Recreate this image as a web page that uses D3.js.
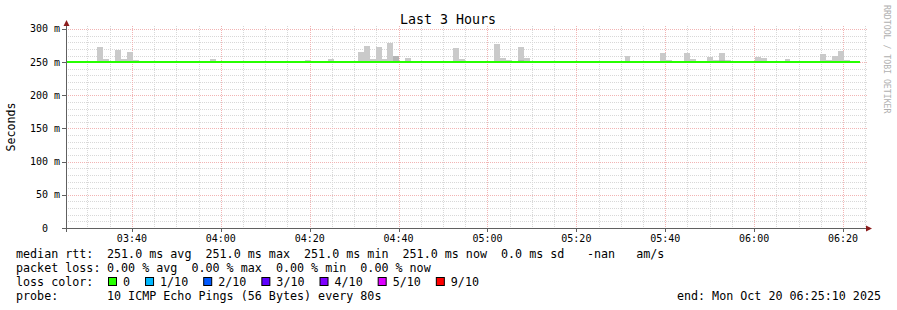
<!DOCTYPE html>
<html>
<head>
<meta charset="utf-8">
<script src="https://cdn.jsdelivr.net/npm/d3@7"></script>
<style>
  body { margin: 0; background: #fff; }
  text { font-family: "DejaVu Sans Mono", monospace; white-space: pre; }
</style>
</head>
<body>
<div class="chart"></div>
<script>
// graph window
const startTime = "03:25:10", endTime = "06:25:10";
const medianEnd = "06:23:50";
const medianRtt = 251;   // ms
const yTicks = [0, 50, 100, 150, 200, 250, 300];

// smoke: start of each 80s step and the highest ping in it (ms)
const smokeTimes = ["03:32:10", "03:33:30", "03:36:10", "03:37:30", "03:38:50", "03:40:10",
    "03:57:30", "04:18:50", "04:24:10", "04:30:50", "04:32:10", "04:33:30", "04:34:50",
    "04:36:10", "04:37:30", "04:38:50", "04:41:30", "04:52:10", "04:53:30", "05:01:30",
    "05:02:50", "05:04:10", "05:06:50", "05:08:10", "05:30:50", "05:38:50", "05:40:10",
    "05:44:10", "05:45:30", "05:49:30", "05:50:50", "05:52:10", "05:53:30", "06:00:10",
    "06:01:30", "06:06:50", "06:14:50", "06:16:10", "06:17:30", "06:18:50", "06:20:10"];
const smokeMax = [273, 255, 268, 255, 265, 253,
    255, 253, 255, 265, 274, 255, 273,
    255, 279, 260, 256, 271, 255, 277,
    256, 253, 273, 256, 259, 264, 253,
    264, 255, 258, 253, 264, 253, 258,
    256, 255, 262, 253, 259, 267, 253];
// darker inner band of the smoke
const coreTimes = ["04:38:50", "05:06:50", "05:52:10"];
const coreMax = [259, 253, 253];
const smokeMin = 250;

// legend
const lossLabels = ["0", "1/10", "2/10", "3/10", "4/10", "5/10", "9/10"];
const lossColors = ["#26ff00", "#00b8ff", "#0059ff", "#5e00ff", "#7e00ff", "#dd00ff", "#ff0000"];

const W = 897, H = 310;
const step = 80; // seconds

const parse = s => {
    const p = s.split(":").map(Number);
    return new Date(2025, 9, 20, p[0], p[1], p[2]);
};

const svg = d3.select("div.chart").append("svg")
    .attr("width", W).attr("height", H);

const x = d3.scaleTime()
    .domain([parse(startTime), parse(endTime)])
    .range([66, 866]);
const y = d3.scaleLinear()
    .domain([0, 301.5])
    .range([228, 28]);

// minor grid
const minorY = d3.range(0, 301, 10).filter(v => v % 50 != 0);
svg.append("g").selectAll("line").data(minorY).enter().append("line")
    .attr("x1", 66).attr("x2", 868)
    .attr("y1", d => Math.round(y(d)) + 0.5).attr("y2", d => Math.round(y(d)) + 0.5)
    .attr("stroke", "#d8d8d8").attr("stroke-dasharray", "1,1");
const minorX = x.ticks(d3.timeMinute.every(5)).filter(d => d.getMinutes() % 20 != 0);
svg.append("g").selectAll("line").data(minorX).enter().append("line")
    .attr("x1", d => Math.round(x(d)) + 0.5).attr("x2", d => Math.round(x(d)) + 0.5)
    .attr("y1", 26).attr("y2", 228)
    .attr("stroke", "#d8d8d8").attr("stroke-dasharray", "1,1");

// major grid
const majorX = x.ticks(d3.timeMinute.every(20));
svg.append("g").selectAll("line").data(yTicks.slice(1)).enter().append("line")
    .attr("x1", 66).attr("x2", 868)
    .attr("y1", d => Math.round(y(d)) + 0.5).attr("y2", d => Math.round(y(d)) + 0.5)
    .attr("stroke", "#f2b4b4").attr("stroke-dasharray", "1,1");
svg.append("g").selectAll("line").data(majorX).enter().append("line")
    .attr("x1", d => Math.round(x(d)) + 0.5).attr("x2", d => Math.round(x(d)) + 0.5)
    .attr("y1", 26).attr("y2", 228)
    .attr("stroke", "#f2b4b4").attr("stroke-dasharray", "1,1");

// smoke
const stepW = d => x(new Date(d.getTime() + step * 1000)) - x(d);
svg.append("g").selectAll("rect").data(smokeTimes.map((t, i) => [parse(t), smokeMax[i]]))
    .enter().append("rect")
    .attr("x", d => x(d[0])).attr("width", d => stepW(d[0]))
    .attr("y", d => y(d[1])).attr("height", d => y(smokeMin) - y(d[1]))
    .attr("fill", "#cacaca").attr("shape-rendering", "crispEdges");
svg.append("g").selectAll("rect").data(coreTimes.map((t, i) => [parse(t), coreMax[i]]))
    .enter().append("rect")
    .attr("x", d => x(d[0])).attr("width", d => stepW(d[0]))
    .attr("y", d => y(d[1])).attr("height", d => y(smokeMin) - y(d[1]))
    .attr("fill", "#b4b4b4").attr("shape-rendering", "crispEdges");

// median line
svg.append("line")
    .attr("x1", x(parse(startTime))).attr("x2", x(parse(medianEnd)))
    .attr("y1", Math.round(y(medianRtt)) + 1).attr("y2", Math.round(y(medianRtt)) + 1)
    .attr("stroke", lossColors[0]).attr("stroke-width", 2)
    .attr("shape-rendering", "crispEdges");

// axes
const axisCol = "#606060", arrowCol = "#8b1c1c";
svg.append("line").attr("x1", 62).attr("x2", 868).attr("y1", 228.5).attr("y2", 228.5)
    .attr("stroke", axisCol);
svg.append("line").attr("x1", 66.5).attr("x2", 66.5).attr("y1", 232).attr("y2", 24)
    .attr("stroke", axisCol);
svg.append("path").attr("d", "M866,225.5 L872,228.5 L866,231.5 Z").attr("fill", arrowCol);
svg.append("path").attr("d", "M63.5,26 L66.5,20 L69.5,26 Z").attr("fill", arrowCol);

// ticks on axes
svg.append("g").selectAll("line").data(yTicks).enter().append("line")
    .attr("x1", 62).attr("x2", 66)
    .attr("y1", d => Math.round(y(d)) + 0.5).attr("y2", d => Math.round(y(d)) + 0.5)
    .attr("stroke", axisCol);
svg.append("g").selectAll("line").data(majorX).enter().append("line")
    .attr("x1", d => Math.round(x(d)) + 0.5).attr("x2", d => Math.round(x(d)) + 0.5)
    .attr("y1", 228).attr("y2", 232)
    .attr("stroke", axisCol);

// tick labels
svg.append("g").selectAll("text").data(yTicks).enter().append("text")
    .attr("x", d => d == 0 ? 48 : 60).attr("y", d => y(d) + 3.5)
    .attr("text-anchor", "end").attr("font-size", "10px")
    .text(d => d == 0 ? "0" : d + " m");
svg.append("g").selectAll("text").data(majorX).enter().append("text")
    .attr("x", d => x(d)).attr("y", 241.5)
    .attr("text-anchor", "middle").attr("font-size", "10px")
    .text(d3.timeFormat("%H:%M"));

// titles
svg.append("text").attr("x", 448).attr("y", 24).attr("text-anchor", "middle")
    .attr("font-size", "13.3px").text("Last 3 Hours");
svg.append("text").attr("transform", "translate(15,127) rotate(-90)")
    .attr("text-anchor", "middle").attr("font-size", "11.6px").text("Seconds");
svg.append("text").attr("transform", "translate(884,5) rotate(90)")
    .attr("font-size", "8.2px").attr("fill", "#b0b0b0").text("RRDTOOL / TOBI OETIKER");

// legend
const leg = svg.append("g").attr("font-size", "11.7px");
leg.append("text").attr("x", 16).attr("y", 258).text("median rtt:");
leg.append("text").attr("x", 107).attr("y", 258)
    .text("251.0 ms avg  251.0 ms max  251.0 ms min  251.0 ms now  0.0 ms sd");
leg.append("text").attr("x", 587).attr("y", 258).text("-nan   am/s");
leg.append("text").attr("x", 16).attr("y", 272).text("packet loss:");
leg.append("text").attr("x", 107).attr("y", 272)
    .text("0.00 % avg  0.00 % max  0.00 % min  0.00 % now");
leg.append("text").attr("x", 16).attr("y", 286).text("loss color:");
let lx = 108;
lossLabels.forEach((lab, i) => {
    leg.append("rect").attr("x", lx + 0.5).attr("y", 277.5).attr("width", 8).attr("height", 8)
        .attr("fill", lossColors[i]).attr("stroke", "#000");
    const t = leg.append("text").attr("x", lx + 15).attr("y", 286).text(lab);
    lx = lx + 15 + t.node().getComputedTextLength() + 15;
});
leg.append("text").attr("x", 16).attr("y", 300).text("probe:");
leg.append("text").attr("x", 107).attr("y", 300).text("10 ICMP Echo Pings (56 Bytes) every 80s");
leg.append("text").attr("x", 881).attr("y", 300).attr("text-anchor", "end")
    .text("end: Mon Oct 20 06:25:10 2025");
</script>
</body>
</html>
